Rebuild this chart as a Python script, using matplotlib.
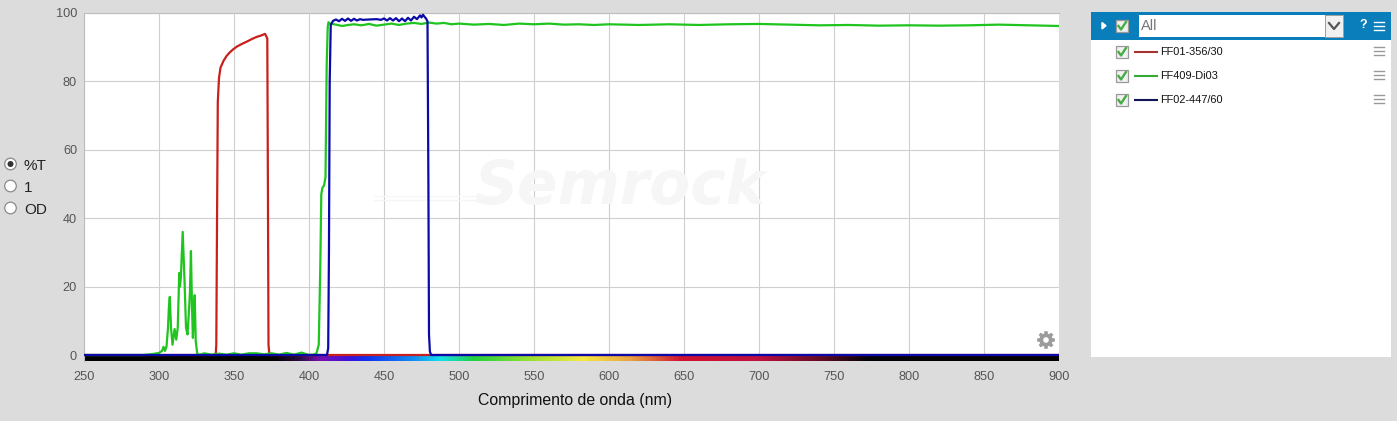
import numpy as np
import matplotlib
matplotlib.use("Agg")
import matplotlib.pyplot as plt
from matplotlib.colors import LinearSegmentedColormap
from matplotlib.patches import Rectangle, Circle, Polygon

plt.rcParams['font.family'] = ['Liberation Sans', 'DejaVu Sans']

# ---------- data ----------
red_nm = [250, 337.8, 338.2, 338.7, 339.2, 340, 341, 343, 345, 347, 349.5, 352, 355, 358.4, 362, 365, 368, 370.7, 371.5, 372.2, 372.6, 373, 373.6, 900]
red_t = [0, 0, 3, 40, 74, 81, 84, 86, 87.4, 88.4, 89.4, 90.2, 90.9, 91.6, 92.4, 93, 93.4, 93.9, 93.2, 92.5, 50, 3, 0, 0]

green_nm = [250, 290, 296, 300, 302, 303, 304, 305, 306, 306.6, 307.2, 308, 309, 310.4, 311.5, 312.5, 313.5, 314, 314.6, 315.8, 317, 318, 319, 320, 320.6, 321.3, 322, 322.6, 323.2, 323.8, 324.5, 325.5, 327,
            330, 335, 340, 345, 350, 355, 360, 365, 370, 375, 380, 385, 390, 395, 400, 403, 405, 406.5, 407.5, 408.2, 409, 410, 411, 411.8, 412.5, 413,
            414, 418, 422, 426, 430, 435, 440, 445, 450, 455, 460, 465, 470, 475, 480, 485, 490, 495, 500, 510, 520, 530, 540, 550, 560, 570, 580, 590, 600, 620, 640, 660, 680, 700, 720, 740, 760, 780, 800, 820, 840, 860, 880, 900]
green_t = [0, 0, 0.3, 0.6, 1.2, 2.4, 1.2, 2.5, 8, 14, 17, 8, 3, 7.6, 4.5, 8, 24, 20, 23, 36, 22, 8, 6, 13, 18, 30.4, 14, 5, 12, 17.5, 4, 0.4, 0,
           0.5, 0.1, 0.4, 0.1, 0.5, 0.1, 0.5, 0.5, 0.2, 0.5, 0.1, 0.6, 0.1, 0.7, 0, 0.1, 0.5, 3, 25, 47, 49, 49.5, 52, 85, 96, 97.3,
           96.9, 96.6, 96.2, 96.5, 96.7, 96.4, 96.8, 96.3, 96.6, 96.9, 96.5, 96.9, 97.1, 96.8, 97.2, 96.9, 97.1, 96.7, 96.9, 96.6, 96.8, 96.5, 96.9, 96.7, 96.9, 96.6, 96.7, 96.5, 96.7, 96.5, 96.7, 96.5, 96.7, 96.8, 96.6, 96.4, 96.5, 96.3, 96.4, 96.3, 96.4, 96.6, 96.4, 96.2]

blue_nm = [250, 412, 412.8, 413.3, 413.8, 414.5, 416, 418, 420, 422, 424, 426, 428, 430, 432, 434, 436, 440, 445, 448, 450, 452, 454, 456, 458, 460, 462, 464, 466, 468, 470, 472, 474, 475, 476, 477, 478, 479, 479.6, 480, 480.6, 481.4, 900]
blue_t = [0, 0, 2, 30, 80, 96.5, 97.7, 98.1, 97.6, 98.3, 97.7, 98.4, 97.7, 98.3, 97.8, 98.2, 98, 98.1, 98.2, 98, 98.4, 97.8, 98.5, 97.8, 98.5, 97.6, 98.4, 97.6, 98.6, 97.8, 98.9, 98.2, 99.3, 98.7, 99.5, 98.9, 98.4, 97.5, 50, 6, 1, 0, 0]

x_ticks = [250, 300, 350, 400, 450, 500, 550, 600, 650, 700, 750, 800, 850, 900]
y_ticks = [0, 20, 40, 60, 80, 100]
x_title = "Comprimento de onda (nm)"
series_names = ["FF01-356/30", "FF409-Di03", "FF02-447/60"]
unit_options = ["%T", "1", "OD"]
spectrum_nm = [250, 376, 392, 407, 425, 438, 470, 487, 510, 545, 583, 615, 649, 700, 745, 774, 900]
spectrum_colors = ["#000000", "#000000", "#2a0a3c", "#7a10b0", "#3f10d8", "#1030f0", "#1090f0", "#10e0f0", "#20d040", "#90e030", "#f8e840", "#e8a040", "#d01030", "#c01040", "#5a0a20", "#000008", "#000000"]

W, H = 1397, 421
BG = "#dcdcdc"
fig = plt.figure(figsize=(W / 100, H / 100), dpi=100, facecolor=BG)

L, R, T, B = 84, 1059, 13, 361
ax = fig.add_axes([L / W, 1 - B / H, (R - L) / W, (B - T) / H], facecolor="white")
ax.set_xlim(250, 900)
ax.set_ylim(-6 / 3.42, 100)

ax.set_xticks(x_ticks)
ax.set_yticks(y_ticks)
ax.grid(True, color="#cfcfcf", linewidth=0.8, zorder=0)
ax.set_axisbelow(True)
ax.tick_params(length=0, labelsize=9.2, labelcolor="#555555")
ax.tick_params(axis='x', pad=7)
ax.tick_params(axis='y', pad=5)
for s in ("right", "bottom"):
    ax.spines[s].set_visible(False)
for s in ("top", "left"):
    ax.spines[s].set_color("#bdbdbd")
    ax.spines[s].set_linewidth(0.8)
ax.set_xlabel(x_title, fontsize=11.4, color="#111111")
ax.xaxis.set_label_coords((575 - L) / (R - L), -(400 - B) / (B - T), transform=ax.transAxes)
ax.xaxis.label.set_verticalalignment("center")

# watermark
ax.text(607, 49, "Semrock", fontsize=43, style="italic", weight="bold", family="DejaVu Sans",
        color="#f6f6f6", ha="center", va="center", zorder=1)
ax.plot([443, 524], [45.3, 45.3], color="#f5f5f5", lw=1, zorder=1)
ax.plot([443, 524], [46.6, 46.6], color="#f7f7f7", lw=1, zorder=1)

# wavelength colour strip
nm = np.array(spectrum_nm, dtype=float)
pos = (nm - nm[0]) / (nm[-1] - nm[0])
cmap = LinearSegmentedColormap.from_list("spec", list(zip(pos, spectrum_colors)))
ax.imshow(np.linspace(0, 1, 1300).reshape(1, -1), cmap=cmap, aspect="auto",
          extent=(250, 900, -6 / 3.42, 0), zorder=2, interpolation="bilinear")
ax.set_xlim(250, 900)
ax.set_ylim(-6 / 3.42, 100)

ax.plot(red_nm, red_t, color="#c8201c", lw=1.6, zorder=3, solid_joinstyle="round")
ax.plot(green_nm, green_t, color="#1fc41f", lw=1.6, zorder=4, solid_joinstyle="round")
ax.plot(blue_nm, blue_t, color="#0a0aa8", lw=1.6, zorder=5, solid_joinstyle="round")

# ---------- overlay in pixel coordinates for the page widgets ----------
ov = fig.add_axes([0, 0, 1, 1], facecolor="none")
ov.set_xlim(0, W)
ov.set_ylim(H, 0)
ov.axis("off")

# gear icon
gcx, gcy = 1046, 340
ang = np.linspace(0, 2 * np.pi, 8, endpoint=False)
gear = []
for a in ang:
    for da, r in ((-0.30, 6.6), (-0.17, 9), (0.17, 9), (0.30, 6.6)):
        gear.append((gcx + r * np.cos(a + da), gcy + r * np.sin(a + da)))
ov.add_patch(Polygon(gear, closed=True, facecolor="#9c9c9c", edgecolor="none"))
ov.add_patch(Circle((gcx, gcy), 2.8, facecolor="white", edgecolor="none"))

# radio buttons
for i, label in enumerate(unit_options):
    y = 164 + 22 * i
    ov.add_patch(Circle((10.5, y), 5.8, facecolor="white", edgecolor="#8a8a8a", lw=0.9))
    if i == 0:
        ov.add_patch(Circle((10.5, y), 3, facecolor="#333333", edgecolor="none"))
    ov.text(24, y + 2, label, fontsize=11, color="#222222", va="center", ha="left")


def checkbox(cx, cy):
    ov.add_patch(Rectangle((cx - 6, cy - 6), 12, 12, facecolor="#f0f0f0", edgecolor="#9a9a9a", lw=0.9))
    ov.plot([cx - 3.5, cx - 1, cx + 4], [cy, cy + 3.5, cy - 4], color="#45ad45", lw=1.7)


def burger(x0, x1, cy, color, lw=1.0):
    for dy in (-4, 0, 4):
        ov.plot([x0, x1], [cy + dy, cy + dy], color=color, lw=lw)


# legend panel
ov.add_patch(Rectangle((1091, 12), 300, 345, facecolor="white", edgecolor="none"))
ov.add_patch(Rectangle((1091, 12), 300, 28, facecolor="#0a7dbb", edgecolor="none"))
ov.add_patch(Rectangle((1139, 15), 186, 22, facecolor="white", edgecolor="none"))
ov.add_patch(Rectangle((1325, 15), 18, 22, facecolor="#f0f0f0", edgecolor="#a0a0a0", lw=0.7))
ov.plot([1329, 1334, 1339], [23, 29, 23], color="#555555", lw=1.6)
ov.fill([1102, 1102, 1106], [22.5, 29, 25.7], color="white")
checkbox(1122, 26)
ov.text(1141, 26, "All", fontsize=10.5, color="#777777", va="center", ha="left")
ov.text(1363, 25.5, "?", fontsize=9, weight="bold", color="white", va="center", ha="center")
burger(1374, 1384, 25.5, "white")

line_colors = ["#a83232", "#35a835", "#14145a"]
for i, (name, c) in enumerate(zip(series_names, line_colors)):
    y = 52 + 24 * i
    checkbox(1122, y)
    ov.plot([1135, 1157], [y, y], color=c, lw=1.5)
    ov.text(1160, y, name, fontsize=7.9, color="#111111", va="center", ha="left")
    burger(1374, 1384, y - 1, "#999999")

fig.savefig("out.png", dpi=100, facecolor=BG)
